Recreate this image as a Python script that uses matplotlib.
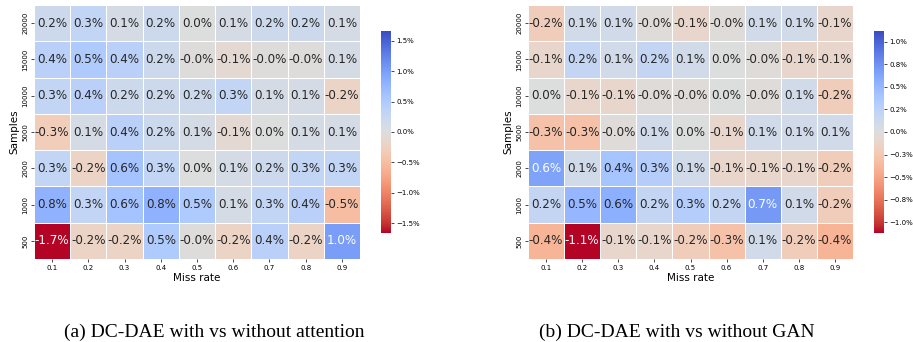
import numpy as np
import matplotlib
matplotlib.use("Agg")
import matplotlib.pyplot as plt
import seaborn as sns

samples = ["20000", "15000", "10000", "5000", "2000", "1000", "500"]
miss_rates = ["0.1", "0.2", "0.3", "0.4", "0.5", "0.6", "0.7", "0.8", "0.9"]

# (a) with vs without attention, % difference
attention_diff = np.array([
    [0.2, 0.3, 0.1, 0.2, 0.0, 0.1, 0.2, 0.2, 0.1],
    [0.4, 0.5, 0.4, 0.2, -0.02, -0.1, -0.02, -0.02, 0.1],
    [0.3, 0.4, 0.2, 0.2, 0.2, 0.3, 0.1, 0.1, -0.2],
    [-0.3, 0.1, 0.4, 0.2, 0.1, -0.1, 0.0, 0.1, 0.1],
    [0.3, -0.2, 0.6, 0.3, 0.0, 0.1, 0.2, 0.3, 0.3],
    [0.8, 0.3, 0.6, 0.8, 0.5, 0.1, 0.3, 0.4, -0.5],
    [-1.66, -0.2, -0.2, 0.5, -0.02, -0.2, 0.4, -0.2, 1.0],
])

# (b) with vs without GAN, % difference
gan_diff = np.array([
    [-0.2, 0.1, 0.1, -0.02, -0.1, -0.02, 0.1, 0.1, -0.1],
    [-0.1, 0.2, 0.1, 0.2, 0.1, 0.0, -0.02, -0.1, -0.1],
    [0.0, -0.1, -0.1, -0.02, -0.02, 0.0, -0.02, 0.1, -0.2],
    [-0.3, -0.3, -0.02, 0.1, 0.0, -0.1, 0.1, 0.1, 0.1],
    [0.64, 0.1, 0.4, 0.3, 0.1, -0.1, -0.1, -0.1, -0.2],
    [0.2, 0.5, 0.56, 0.2, 0.3, 0.2, 0.7, 0.1, -0.2],
    [-0.4, -1.12, -0.1, -0.1, -0.2, -0.3, 0.1, -0.2, -0.4],
])

cbar_ticks_a = [-1.5, -1.0, -0.5, 0.0, 0.5, 1.0, 1.5]
cbar_labels_a = ["\u22121.5%", "\u22121.0%", "\u22120.5%", "0.0%", "0.5%", "1.0%", "1.5%"]
cbar_ticks_b = [-1.0, -0.75, -0.5, -0.25, 0.0, 0.25, 0.5, 0.75, 1.0]
cbar_labels_b = ["\u22121.0%", "\u22120.8%", "\u22120.5%", "\u22120.3%", "0.0%",
                 "0.2%", "0.5%", "0.8%", "1.0%"]

captions = ["(a) DC-DAE with vs without attention", "(b) DC-DAE with vs without GAN"]

W, H = 913, 342
fig = plt.figure(figsize=(W / 100, H / 100), dpi=100)


def px(x0, y0, x1, y1):
    # pixel box -> figure fraction
    return [x0 / W, 1 - y1 / H, (x1 - x0) / W, (y1 - y0) / H]


panels = [
    (attention_diff, px(34, 5, 360, 259), px(381, 31, 391, 233), cbar_ticks_a, cbar_labels_a, 214, captions[0]),
    (gan_diff, px(528, 5, 853, 259), px(874, 31, 884, 233), cbar_ticks_b, cbar_labels_b, 677, captions[1]),
]

for data, hm_box, cb_box, ticks, labels, cap_x, cap in panels:
    ax = fig.add_axes(hm_box)
    cax = fig.add_axes(cb_box)
    annot = np.array([[f"{v:.1f}%" for v in row] for row in data])
    m = np.abs(data).max()
    sns.heatmap(data, ax=ax, cbar_ax=cax, cmap="coolwarm_r", vmin=-m, vmax=m,
                annot=annot, fmt="", annot_kws={"size": 8.6},
                linewidths=0.5, linecolor="white",
                xticklabels=miss_rates, yticklabels=samples)
    ax.set_xlabel("Miss rate", fontsize=7.5, labelpad=2)
    ax.set_ylabel("Samples", fontsize=7.5, labelpad=2)
    ax.tick_params(axis="both", labelsize=5, length=2, width=0.5, pad=2)
    ax.tick_params(axis="y", rotation=90)
    cbar = ax.collections[0].colorbar
    cbar.set_ticks(ticks, labels=labels)
    cbar.ax.tick_params(labelsize=5, length=2, width=0.5, pad=2)
    fig.text(cap_x / W, 1 - 337 / H, cap, ha="center", va="baseline",
             family="Liberation Serif", fontsize=14)

fig.savefig("out.png", dpi=100)
